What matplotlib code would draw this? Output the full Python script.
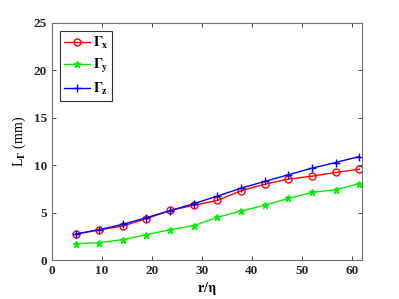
import matplotlib
matplotlib.use('Agg')
import matplotlib.pyplot as plt
import numpy as np

# data
r_eta = [4.73, 9.46, 14.19, 18.92, 23.65, 28.38, 33.11, 37.84, 42.57, 47.3, 52.03, 56.76, 61.49]
gam_x = [2.75, 3.17, 3.59, 4.37, 5.24, 5.77, 6.29, 7.31, 8.0, 8.53, 8.84, 9.23, 9.58]
gam_y = [1.70, 1.85, 2.16, 2.69, 3.21, 3.63, 4.51, 5.17, 5.77, 6.50, 7.13, 7.42, 8.05]
gam_z = [2.75, 3.21, 3.77, 4.47, 5.21, 5.95, 6.74, 7.58, 8.29, 8.99, 9.69, 10.28, 10.91]

plt.rcParams['font.family'] = ['Liberation Serif', 'DejaVu Serif']
plt.rcParams['font.weight'] = 'bold'
plt.rcParams['mathtext.fontset'] = 'stix'

fig = plt.figure(figsize=(3.99, 2.99), dpi=100)
ax = fig.add_axes([0.130, 0.130, 0.777, 0.794])

ax.plot(r_eta, gam_x, color='red', marker='o', mfc='none', ms=5, lw=1, label=r'$\mathbf{\Gamma_x}$')
ax.plot(r_eta, gam_y, color='#00ee00', marker='*', ms=5, lw=1, label=r'$\mathbf{\Gamma_y}$')
ax.plot(r_eta, gam_z, color='blue', marker='+', ms=6, lw=1, label=r'$\mathbf{\Gamma_z}$')

ax.set_xlim(0, 62)
ax.set_ylim(0, 25)
ax.set_xticks([0, 10, 20, 30, 40, 50, 60])
ax.set_yticks([0, 5, 10, 15, 20, 25])
ax.tick_params(direction='in', top=True, right=True, labelsize=9.5, colors='#262626', length=3, width=0.6)
for s in ax.spines.values():
    s.set_color('#707070')
    s.set_linewidth(0.8)

ax.set_xlabel(r'r/$\mathbf{\eta}$', fontsize=10, fontweight='bold', labelpad=2)
ax.set_ylabel(r'L$_{\Gamma}$ (mm)', fontsize=10, fontweight='normal', labelpad=4)

leg = ax.legend(loc='upper left', fontsize=10, frameon=True, fancybox=False,
                edgecolor='black', handlelength=1.9, borderaxespad=0.6,
                labelspacing=0.45, handletextpad=0.2, borderpad=0.25)
leg.get_frame().set_linewidth(0.8)

fig.savefig('out.png', dpi=100)
